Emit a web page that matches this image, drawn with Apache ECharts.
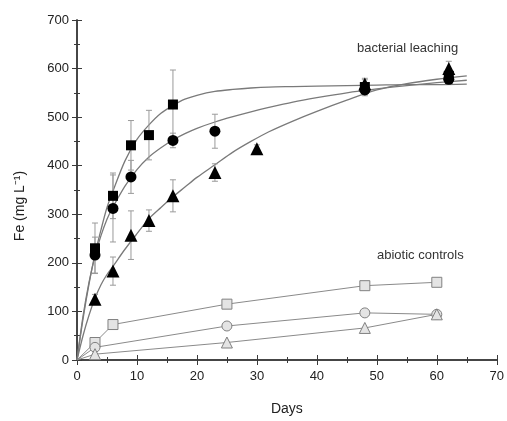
<!DOCTYPE html>
<html>
<head>
<meta charset="utf-8">
<script src="https://cdn.jsdelivr.net/npm/echarts@6/dist/echarts.min.js"></script>
<style>
  html, body { margin: 0; padding: 0; background: #fff; }
  #chart { width: 507px; height: 421px; }
</style>
</head>
<body>
<div id="chart"></div>
<script>
// Bacterial leaching: measured Fe (mg/L) with standard deviations
const squareDays = [3, 6, 9, 12, 16, 48, 62];
const squareFe = [230, 338, 442, 463, 526, 562, 585];
const squareErr = [52, 47, 51, 51, 71, 15, 0];

const circleDays = [3, 6, 9, 16, 23, 48, 62];
const circleFe = [216, 312, 377, 452, 471, 556, 578];
const circleErr = [37, 69, 34, 15, 35, 12, 0];

const triangleDays = [3, 6, 9, 12, 16, 23, 30, 48, 62];
const triangleFe = [125, 183, 257, 287, 338, 386, 435, 568, 600];
const triangleErr = [10, 29, 50, 22, 33, 18, 8, 12, 15];

// Fitted leaching curves
const fitDays = [0, 1, 2, 3, 4, 5, 6, 8, 10, 12, 14, 16, 18, 20, 23, 26, 29, 32, 36, 40, 45, 50, 55, 60, 65];
const squareFit = [0, 84, 156, 218, 268, 314, 348, 410, 454, 484, 508, 524, 537, 545, 553, 557, 560, 562, 563, 564, 565, 566, 567, 567, 568];
const circleFit = [0, 90, 160, 214, 256, 290, 315, 358, 392, 418, 437, 453, 466, 477, 490, 501, 511, 520, 531, 540, 550, 558, 565, 571, 576];
const triangleFit = [0, 50, 92, 127, 155, 176, 193, 228, 260, 291, 314, 336, 356, 376, 402, 428, 450, 470, 492, 512, 535, 556, 569, 578, 585];

// Abiotic controls
const ctrlSquareDays = [0, 3, 6, 25, 48, 60];
const ctrlSquareFe = [0, 36, 73, 115, 153, 160];
const ctrlCircleDays = [0, 3, 25, 48, 60];
const ctrlCircleFe = [0, 26, 70, 97, 94];
const ctrlTriangleDays = [0, 3, 25, 48, 60];
const ctrlTriangleFe = [0, 12, 36, 66, 94];

const xTicks = [0, 10, 20, 30, 40, 50, 60, 70];
const yTicks = [0, 100, 200, 300, 400, 500, 600, 700];

const pairs = (xs, ys) => xs.map((x, i) => [x, ys[i]]);
const errs = (xs, ys, es) => xs.map((x, i) => [x, ys[i] - es[i], ys[i] + es[i]]).filter((d, i) => es[i] > 0);

const FONT = '"Liberation Sans", Arial, sans-serif';
const AXIS_COLOR = '#3a3a3a';

function errorBarSeries(data) {
  return {
    type: 'custom',
    data: data,
    z: 3,
    renderItem: function (params, api) {
      const x = api.value(0);
      const lo = api.coord([x, api.value(1)]);
      const hi = api.coord([x, api.value(2)]);
      const cap = 3;
      const style = { stroke: '#9a9a9a', lineWidth: 1 };
      return {
        type: 'group',
        children: [
          { type: 'line', shape: { x1: lo[0], y1: lo[1], x2: hi[0], y2: hi[1] }, style: style },
          { type: 'line', shape: { x1: lo[0] - cap, y1: lo[1], x2: lo[0] + cap, y2: lo[1] }, style: style },
          { type: 'line', shape: { x1: hi[0] - cap, y1: hi[1], x2: hi[0] + cap, y2: hi[1] }, style: style }
        ]
      };
    }
  };
}

function fitSeries(values) {
  return {
    type: 'line',
    data: pairs(fitDays, values),
    smooth: 0.3,
    showSymbol: false,
    z: 2,
    lineStyle: { color: '#7a7a7a', width: 1.3 }
  };
}

function markerSeries(xs, ys, symbol, size) {
  return {
    type: 'scatter',
    data: pairs(xs, ys),
    symbol: symbol,
    symbolSize: size,
    z: 5,
    itemStyle: { color: '#000', opacity: 1 }
  };
}

function controlSeries(xs, ys, symbol, size) {
  // the starting point at day 0 carries no marker
  const data = pairs(xs, ys).map(p => p[0] === 0 ? { value: p, symbol: 'none' } : p);
  return {
    type: 'line',
    data: data,
    symbol: symbol,
    symbolSize: size,
    showAllSymbol: true,
    z: 4,
    lineStyle: { color: '#8a8a8a', width: 1 },
    itemStyle: { color: '#e4e4e4', borderColor: '#808080', borderWidth: 1, opacity: 1 }
  };
}

const baseAxis = {
  axisLine: { lineStyle: { color: AXIS_COLOR, width: 1.5 } },
  axisTick: { inside: true, length: 5, lineStyle: { color: AXIS_COLOR, width: 1 } },
  minorTick: { show: true, splitNumber: 2, length: 3, lineStyle: { color: AXIS_COLOR, width: 1 } },
  splitLine: { show: false }
};

const chart = echarts.init(document.getElementById('chart'), null, { renderer: 'canvas' });
chart.setOption({
  animation: false,
  backgroundColor: '#fff',
  grid: { left: 77, right: 10, top: 20, bottom: 58 },
  xAxis: [
    Object.assign({}, baseAxis, {
      type: 'value', min: xTicks[0], max: xTicks[xTicks.length - 1], interval: 10,
      name: 'Days', nameLocation: 'middle', nameGap: 42,
      nameTextStyle: { fontFamily: FONT, fontSize: 14, color: '#222' },
      axisLabel: { fontFamily: FONT, fontSize: 13, color: '#222', margin: 10 }
    }),
    Object.assign({}, baseAxis, {
      type: 'value', position: 'top', min: xTicks[0], max: xTicks[xTicks.length - 1], interval: 10,
      axisLabel: { show: false }
    })
  ],
  yAxis: [
    Object.assign({}, baseAxis, {
      type: 'value', min: yTicks[0], max: yTicks[yTicks.length - 1], interval: 100,
      name: 'Fe (mg L\u207B\u00B9)', nameLocation: 'middle', nameGap: 50, nameRotate: 90,
      nameTextStyle: { fontFamily: FONT, fontSize: 14, color: '#222', padding: [0, 32, 0, 0] },
      axisLabel: { fontFamily: FONT, fontSize: 13, color: '#222', margin: 8 }
    }),
    Object.assign({}, baseAxis, {
      type: 'value', position: 'right', min: yTicks[0], max: yTicks[yTicks.length - 1], interval: 100,
      axisLabel: { show: false }
    })
  ],
  graphic: [
    { type: 'text', left: 357, top: 42, z: 10,
      style: { text: 'bacterial leaching', font: '13px ' + FONT, fill: '#333' } },
    { type: 'text', left: 377, top: 249, z: 10,
      style: { text: 'abiotic controls', font: '13px ' + FONT, fill: '#333' } }
  ],
  series: [
    fitSeries(squareFit),
    fitSeries(circleFit),
    fitSeries(triangleFit),
    errorBarSeries(errs(squareDays, squareFe, squareErr)),
    errorBarSeries(errs(circleDays, circleFe, circleErr)),
    errorBarSeries(errs(triangleDays, triangleFe, triangleErr)),
    controlSeries(ctrlSquareDays, ctrlSquareFe, 'rect', 10),
    controlSeries(ctrlCircleDays, ctrlCircleFe, 'circle', 10),
    controlSeries(ctrlTriangleDays, ctrlTriangleFe, 'triangle', 11),
    markerSeries(squareDays, squareFe, 'rect', 10),
    markerSeries(circleDays, circleFe, 'circle', 11),
    markerSeries(triangleDays, triangleFe, 'triangle', 13)
  ]
});
</script>
</body>
</html>
